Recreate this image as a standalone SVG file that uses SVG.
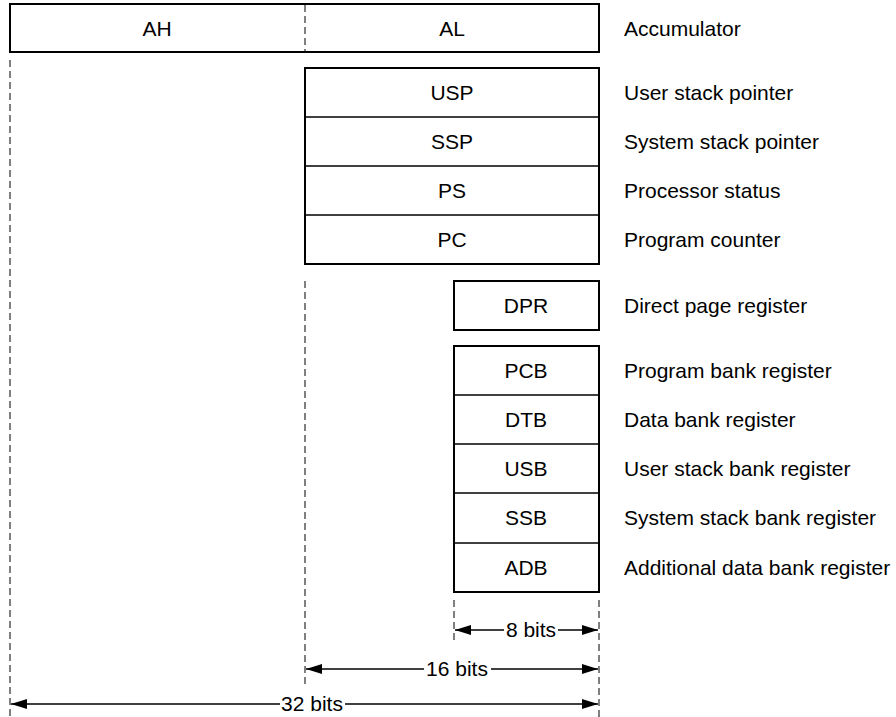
<svg xmlns="http://www.w3.org/2000/svg" width="896" height="717" viewBox="0 0 896 717">
<style>
.box{fill:#fff;stroke:#000;stroke-width:2}
.div{stroke:#000;stroke-width:1.5}
.dash{stroke:#000;stroke-width:1;stroke-dasharray:7,4;fill:none}
.t{font-family:"Liberation Sans",Arial,sans-serif;font-size:21px;fill:#000}
.c{text-anchor:middle}
.dim{stroke:#000;stroke-width:1.3;fill:none}
</style>
<defs>
<marker id="ah" markerUnits="userSpaceOnUse" markerWidth="16" markerHeight="10" refX="16" refY="5" orient="auto-start-reverse">
<path d="M0,0 L16,5 L0,10 Z" fill="#000"/>
</marker>
</defs>
<rect width="896" height="717" fill="#fff"/>
<g id="guides">
<line class="dash" x1="10" y1="60" x2="10" y2="717"/>
<line class="dash" x1="305" y1="281" x2="305" y2="688"/>
<line class="dash" x1="454" y1="600" x2="454" y2="643"/>
<line class="dash" x1="599" y1="600" x2="599" y2="717"/>
</g>
<g id="accumulator">
<rect class="box" x="10" y="4" width="589" height="48"/>
<line class="dash" x1="305" y1="5" x2="305" y2="51"/>
<text class="t c" x="157" y="36">AH</text>
<text class="t c" x="452" y="36">AL</text>
</g>
<g id="reg16">
<rect class="box" x="305" y="68" width="294" height="196"/>
<line class="div" x1="305" y1="117" x2="599" y2="117"/>
<line class="div" x1="305" y1="166" x2="599" y2="166"/>
<line class="div" x1="305" y1="215" x2="599" y2="215"/>
<text class="t c" x="452" y="100">USP</text>
<text class="t c" x="452" y="149">SSP</text>
<text class="t c" x="452" y="198">PS</text>
<text class="t c" x="452" y="247">PC</text>
</g>
<g id="dpr">
<rect class="box" x="454" y="281" width="145" height="49"/>
<text class="t c" x="526" y="313">DPR</text>
</g>
<g id="banks">
<rect class="box" x="454" y="346" width="145" height="246"/>
<line class="div" x1="454" y1="395" x2="599" y2="395"/>
<line class="div" x1="454" y1="444" x2="599" y2="444"/>
<line class="div" x1="454" y1="493" x2="599" y2="493"/>
<line class="div" x1="454" y1="543" x2="599" y2="543"/>
<text class="t c" x="526" y="378">PCB</text>
<text class="t c" x="526" y="427">DTB</text>
<text class="t c" x="526" y="476">USB</text>
<text class="t c" x="526" y="525">SSB</text>
<text class="t c" x="526" y="575">ADB</text>
</g>
<g id="labels">
<text class="t" x="624" y="36">Accumulator</text>
<text class="t" x="624" y="100">User stack pointer</text>
<text class="t" x="624" y="149">System stack pointer</text>
<text class="t" x="624" y="198">Processor status</text>
<text class="t" x="624" y="247">Program counter</text>
<text class="t" x="624" y="313">Direct page register</text>
<text class="t" x="624" y="378">Program bank register</text>
<text class="t" x="624" y="427">Data bank register</text>
<text class="t" x="624" y="476">User stack bank register</text>
<text class="t" x="624" y="525">System stack bank register</text>
<text class="t" x="624" y="575">Additional data bank register</text>
</g>
<g id="connectors">
<line class="dim" x1="455" y1="630" x2="504" y2="630" marker-start="url(#ah)"/>
<line class="dim" x1="558" y1="630" x2="598" y2="630" marker-end="url(#ah)"/>
<text class="t c" x="531" y="637">8 bits</text>
<line class="dim" x1="306" y1="669" x2="424" y2="669" marker-start="url(#ah)"/>
<line class="dim" x1="491" y1="669" x2="598" y2="669" marker-end="url(#ah)"/>
<text class="t c" x="457" y="676">16 bits</text>
<line class="dim" x1="11" y1="704" x2="280" y2="704" marker-start="url(#ah)"/>
<line class="dim" x1="345" y1="704" x2="598" y2="704" marker-end="url(#ah)"/>
<text class="t c" x="312" y="711">32 bits</text>
</g>
</svg>
